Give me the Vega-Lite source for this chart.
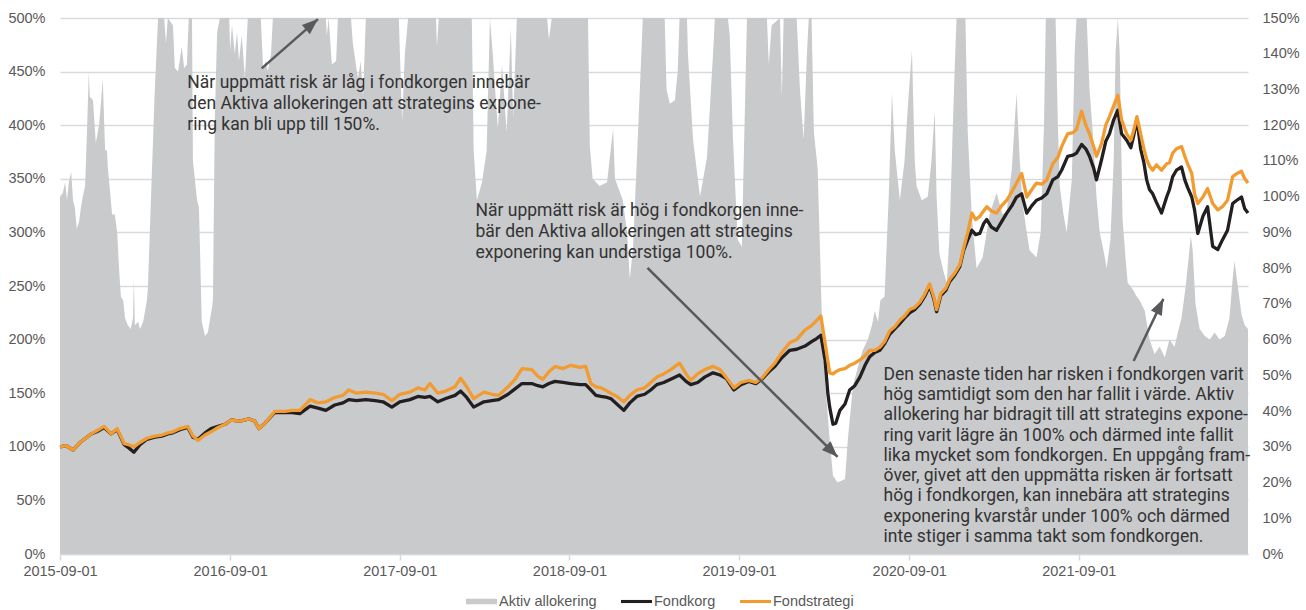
{
  "$schema": "https://vega.github.io/schema/vega-lite/v6.json",
  "width": 1188,
  "height": 536,
  "autosize": {"type": "none"},
  "padding": {"left": 60, "top": 18, "right": 58, "bottom": 56},
  "background": "white",
  "config": {
    "view": {"stroke": null},
    "axis": {"labelFont": "Liberation Sans", "labelFontSize": 14.5, "labelColor": "#595959"},
    "legend": {
      "orient": "none", "legendX": 406, "legendY": 568, "direction": "horizontal",
      "symbolType": "M-1,-0.1H1V0.1H-1Z", "symbolSize": 961, "symbolStrokeWidth": 0,
      "labelFont": "Liberation Sans", "labelFontSize": 14.5, "labelColor": "#595959", "labelOffset": 2,
      "columnPadding": 24
    }
  },
  "datasets": {
    "area": [
      {"d":"2015-09-01","v":100},{"d":"2015-09-07","v":101},{"d":"2015-09-12","v":104},{"d":"2015-09-16","v":99},
      {"d":"2015-09-20","v":104},{"d":"2015-09-25","v":107},{"d":"2015-09-29","v":99},{"d":"2015-10-03","v":97},
      {"d":"2015-10-07","v":91},{"d":"2015-10-12","v":93},{"d":"2015-10-16","v":97},{"d":"2015-10-20","v":100},
      {"d":"2015-10-25","v":103},{"d":"2015-10-29","v":118},{"d":"2015-11-02","v":135},{"d":"2015-11-04","v":128},
      {"d":"2015-11-11","v":127},{"d":"2015-11-17","v":115},{"d":"2015-11-24","v":120},{"d":"2015-11-28","v":126},
      {"d":"2015-12-02","v":133},{"d":"2015-12-07","v":113},{"d":"2015-12-11","v":113},{"d":"2015-12-13","v":108},
      {"d":"2015-12-18","v":101},{"d":"2015-12-22","v":95},{"d":"2015-12-28","v":95},{"d":"2016-01-02","v":90},
      {"d":"2016-01-06","v":80},{"d":"2016-01-10","v":72},{"d":"2016-01-15","v":71},{"d":"2016-01-19","v":66},
      {"d":"2016-01-25","v":64},{"d":"2016-01-31","v":63},{"d":"2016-02-05","v":66},{"d":"2016-02-07","v":77},
      {"d":"2016-02-09","v":64},{"d":"2016-02-16","v":65},{"d":"2016-02-20","v":63},{"d":"2016-02-27","v":65},
      {"d":"2016-03-06","v":71},{"d":"2016-03-08","v":74},{"d":"2016-03-17","v":108},{"d":"2016-03-23","v":130},
      {"d":"2016-03-30","v":150},{"d":"2016-04-12","v":150},{"d":"2016-04-16","v":143},{"d":"2016-04-20","v":150},
      {"d":"2016-05-01","v":148},{"d":"2016-05-05","v":136},{"d":"2016-05-12","v":135},{"d":"2016-05-20","v":142},
      {"d":"2016-05-25","v":136},{"d":"2016-05-31","v":137},{"d":"2016-06-04","v":150},{"d":"2016-06-11","v":150},
      {"d":"2016-06-13","v":110},{"d":"2016-06-22","v":99},{"d":"2016-06-26","v":97},{"d":"2016-07-02","v":65},
      {"d":"2016-07-09","v":61},{"d":"2016-07-15","v":62},{"d":"2016-07-24","v":69},{"d":"2016-07-26","v":71},
      {"d":"2016-07-30","v":121},{"d":"2016-08-04","v":146},{"d":"2016-08-10","v":150},{"d":"2016-08-30","v":150},
      {"d":"2016-09-01","v":141},{"d":"2016-09-05","v":148},{"d":"2016-09-11","v":140},{"d":"2016-09-16","v":146},
      {"d":"2016-09-20","v":138},{"d":"2016-09-26","v":145},{"d":"2016-10-03","v":133},{"d":"2016-10-09","v":150},
      {"d":"2016-11-06","v":150},{"d":"2016-11-11","v":136},{"d":"2016-11-17","v":138},{"d":"2016-11-21","v":135},
      {"d":"2016-11-28","v":140},{"d":"2016-12-02","v":150},{"d":"2017-03-26","v":150},{"d":"2017-03-28","v":145},
      {"d":"2017-04-01","v":150},{"d":"2017-04-08","v":137},{"d":"2017-04-17","v":138},{"d":"2017-04-21","v":150},
      {"d":"2017-05-19","v":150},{"d":"2017-05-23","v":143},{"d":"2017-06-03","v":133},{"d":"2017-06-09","v":138},
      {"d":"2017-06-14","v":128},{"d":"2017-06-20","v":150},{"d":"2017-08-30","v":150},{"d":"2017-09-06","v":121},
      {"d":"2017-09-12","v":140},{"d":"2017-09-19","v":150},{"d":"2017-11-18","v":150},{"d":"2017-11-20","v":142},
      {"d":"2017-11-24","v":150},{"d":"2018-02-03","v":150},{"d":"2018-02-07","v":113},{"d":"2018-02-14","v":99},
      {"d":"2018-02-25","v":104},{"d":"2018-03-07","v":113},{"d":"2018-03-14","v":150},{"d":"2018-03-20","v":140},
      {"d":"2018-03-31","v":119},{"d":"2018-04-09","v":137},{"d":"2018-04-19","v":118},{"d":"2018-04-28","v":147},
      {"d":"2018-05-03","v":122},{"d":"2018-05-11","v":150},{"d":"2018-07-15","v":150},{"d":"2018-07-19","v":144},
      {"d":"2018-07-25","v":150},{"d":"2018-10-11","v":150},{"d":"2018-10-15","v":114},{"d":"2018-10-21","v":105},
      {"d":"2018-11-05","v":103},{"d":"2018-11-21","v":104},{"d":"2018-12-04","v":119},{"d":"2018-12-08","v":105},
      {"d":"2018-12-25","v":99},{"d":"2019-01-03","v":90},{"d":"2019-01-09","v":77},{"d":"2019-01-16","v":86},
      {"d":"2019-01-26","v":116},{"d":"2019-02-06","v":150},{"d":"2019-03-25","v":150},{"d":"2019-03-29","v":130},
      {"d":"2019-04-05","v":126},{"d":"2019-04-16","v":127},{"d":"2019-04-22","v":135},{"d":"2019-04-26","v":150},
      {"d":"2019-05-12","v":150},{"d":"2019-05-14","v":140},{"d":"2019-05-25","v":116},{"d":"2019-06-09","v":100},
      {"d":"2019-06-24","v":111},{"d":"2019-07-07","v":140},{"d":"2019-07-11","v":150},{"d":"2019-08-08","v":150},
      {"d":"2019-08-12","v":145},{"d":"2019-08-19","v":116},{"d":"2019-08-29","v":88},{"d":"2019-09-07","v":86},
      {"d":"2019-09-11","v":110},{"d":"2019-09-18","v":150},{"d":"2019-10-31","v":150},{"d":"2019-11-04","v":137},
      {"d":"2019-11-10","v":148},{"d":"2019-11-28","v":150},{"d":"2019-12-02","v":128},{"d":"2019-12-06","v":150},
      {"d":"2020-01-03","v":150},{"d":"2020-01-10","v":130},{"d":"2020-01-18","v":116},{"d":"2020-01-25","v":140},
      {"d":"2020-01-29","v":150},{"d":"2020-02-04","v":150},{"d":"2020-02-09","v":118},{"d":"2020-02-17","v":108},
      {"d":"2020-02-22","v":86},{"d":"2020-02-28","v":57},{"d":"2020-03-08","v":42},{"d":"2020-03-14","v":32},
      {"d":"2020-03-21","v":22},{"d":"2020-03-31","v":20},{"d":"2020-04-16","v":21},{"d":"2020-04-22","v":32},
      {"d":"2020-05-03","v":47},{"d":"2020-05-13","v":52},{"d":"2020-05-24","v":57},{"d":"2020-06-04","v":60},
      {"d":"2020-06-13","v":64},{"d":"2020-06-19","v":68},{"d":"2020-06-26","v":65},{"d":"2020-07-01","v":71},
      {"d":"2020-07-10","v":72},{"d":"2020-07-19","v":100},{"d":"2020-07-26","v":129},{"d":"2020-08-01","v":113},
      {"d":"2020-08-12","v":99},{"d":"2020-08-22","v":110},{"d":"2020-08-29","v":125},{"d":"2020-09-07","v":141},
      {"d":"2020-09-13","v":110},{"d":"2020-09-17","v":103},{"d":"2020-09-28","v":99},{"d":"2020-10-11","v":100},
      {"d":"2020-10-19","v":110},{"d":"2020-10-26","v":124},{"d":"2020-10-30","v":100},{"d":"2020-11-05","v":84},
      {"d":"2020-11-14","v":79},{"d":"2020-11-21","v":76},{"d":"2020-11-27","v":90},{"d":"2020-12-04","v":120},
      {"d":"2020-12-08","v":136},{"d":"2020-12-12","v":150},{"d":"2020-12-31","v":150},{"d":"2021-01-05","v":118},
      {"d":"2021-01-14","v":94},{"d":"2021-01-24","v":80},{"d":"2021-02-06","v":83},{"d":"2021-02-21","v":95},
      {"d":"2021-03-08","v":101},{"d":"2021-03-21","v":95},{"d":"2021-03-30","v":96},{"d":"2021-04-10","v":108},
      {"d":"2021-04-20","v":129},{"d":"2021-04-27","v":110},{"d":"2021-05-03","v":98},{"d":"2021-05-12","v":90},
      {"d":"2021-05-18","v":85},{"d":"2021-06-02","v":83},{"d":"2021-06-11","v":90},{"d":"2021-06-18","v":120},
      {"d":"2021-06-22","v":150},{"d":"2021-07-13","v":150},{"d":"2021-07-18","v":120},{"d":"2021-07-22","v":103},
      {"d":"2021-07-30","v":95},{"d":"2021-08-06","v":90},{"d":"2021-08-17","v":105},{"d":"2021-08-23","v":140},
      {"d":"2021-08-27","v":150},{"d":"2021-09-18","v":150},{"d":"2021-09-24","v":130},{"d":"2021-10-01","v":118},
      {"d":"2021-10-09","v":100},{"d":"2021-10-16","v":90},{"d":"2021-10-24","v":85},{"d":"2021-10-31","v":80},
      {"d":"2021-11-08","v":88},{"d":"2021-11-15","v":110},{"d":"2021-11-19","v":140},{"d":"2021-11-24","v":150},
      {"d":"2021-11-28","v":140},{"d":"2021-12-04","v":94},{"d":"2021-12-11","v":82},{"d":"2021-12-15","v":76},
      {"d":"2021-12-26","v":74},{"d":"2022-01-04","v":72},{"d":"2022-01-10","v":71},{"d":"2022-01-21","v":68},
      {"d":"2022-01-31","v":60},{"d":"2022-02-11","v":56},{"d":"2022-02-22","v":58},{"d":"2022-03-05","v":55},
      {"d":"2022-03-15","v":60},{"d":"2022-03-26","v":58},{"d":"2022-04-02","v":62},{"d":"2022-04-10","v":66},
      {"d":"2022-04-19","v":75},{"d":"2022-04-23","v":80},{"d":"2022-04-30","v":89},{"d":"2022-05-04","v":85},
      {"d":"2022-05-10","v":70},{"d":"2022-05-19","v":63},{"d":"2022-05-30","v":61},{"d":"2022-06-10","v":60},
      {"d":"2022-06-20","v":62},{"d":"2022-07-01","v":60},{"d":"2022-07-12","v":61},{"d":"2022-07-22","v":66},
      {"d":"2022-07-29","v":77},{"d":"2022-08-02","v":82},{"d":"2022-08-09","v":75},{"d":"2022-08-17","v":67},
      {"d":"2022-08-24","v":64},{"d":"2022-08-31","v":63}
    ],
    "lines": [
      {"d":"2015-09-01","Fondkorg":100,"Fondstrategi":100},{"d":"2015-09-14","Fondkorg":101,"Fondstrategi":101},
      {"d":"2015-09-29","Fondkorg":97,"Fondstrategi":97},{"d":"2015-10-14","Fondkorg":104,"Fondstrategi":104},
      {"d":"2015-11-07","Fondkorg":112,"Fondstrategi":112},{"d":"2015-11-19","Fondkorg":114,"Fondstrategi":115},
      {"d":"2015-12-05","Fondkorg":118,"Fondstrategi":119},{"d":"2015-12-20","Fondkorg":112,"Fondstrategi":112},
      {"d":"2016-01-02","Fondkorg":116,"Fondstrategi":117},{"d":"2016-01-17","Fondkorg":102,"Fondstrategi":103},
      {"d":"2016-01-27","Fondkorg":99,"Fondstrategi":102},{"d":"2016-02-07","Fondkorg":95,"Fondstrategi":100},
      {"d":"2016-02-20","Fondkorg":102,"Fondstrategi":104},{"d":"2016-03-06","Fondkorg":107,"Fondstrategi":108},
      {"d":"2016-03-23","Fondkorg":109,"Fondstrategi":110},{"d":"2016-04-07","Fondkorg":110,"Fondstrategi":111},
      {"d":"2016-04-20","Fondkorg":112,"Fondstrategi":113},{"d":"2016-05-01","Fondkorg":113,"Fondstrategi":114},
      {"d":"2016-05-16","Fondkorg":116,"Fondstrategi":117},{"d":"2016-06-02","Fondkorg":118,"Fondstrategi":119},
      {"d":"2016-06-13","Fondkorg":109,"Fondstrategi":110},{"d":"2016-06-24","Fondkorg":107,"Fondstrategi":106},
      {"d":"2016-07-09","Fondkorg":113,"Fondstrategi":111},{"d":"2016-07-22","Fondkorg":117,"Fondstrategi":114},
      {"d":"2016-08-06","Fondkorg":119,"Fondstrategi":118},{"d":"2016-08-21","Fondkorg":121,"Fondstrategi":121},
      {"d":"2016-09-03","Fondkorg":125,"Fondstrategi":125},{"d":"2016-09-22","Fondkorg":124,"Fondstrategi":124},
      {"d":"2016-10-12","Fondkorg":126,"Fondstrategi":126},{"d":"2016-10-24","Fondkorg":124,"Fondstrategi":124},
      {"d":"2016-11-02","Fondkorg":117,"Fondstrategi":117},{"d":"2016-11-15","Fondkorg":122,"Fondstrategi":122},
      {"d":"2016-12-06","Fondkorg":132,"Fondstrategi":133},{"d":"2016-12-28","Fondkorg":132,"Fondstrategi":133},
      {"d":"2017-01-12","Fondkorg":132,"Fondstrategi":134},{"d":"2017-01-29","Fondkorg":131,"Fondstrategi":134},
      {"d":"2017-02-20","Fondkorg":138,"Fondstrategi":144},{"d":"2017-03-09","Fondkorg":136,"Fondstrategi":141},
      {"d":"2017-03-26","Fondkorg":134,"Fondstrategi":142},{"d":"2017-04-14","Fondkorg":139,"Fondstrategi":146},
      {"d":"2017-05-02","Fondkorg":141,"Fondstrategi":148},{"d":"2017-05-14","Fondkorg":144,"Fondstrategi":153},
      {"d":"2017-05-31","Fondkorg":143,"Fondstrategi":150},{"d":"2017-06-20","Fondkorg":144,"Fondstrategi":151},
      {"d":"2017-07-10","Fondkorg":143,"Fondstrategi":150},{"d":"2017-07-27","Fondkorg":142,"Fondstrategi":149},
      {"d":"2017-08-15","Fondkorg":137,"Fondstrategi":143},{"d":"2017-09-01","Fondkorg":142,"Fondstrategi":149},
      {"d":"2017-09-23","Fondkorg":144,"Fondstrategi":151},{"d":"2017-10-10","Fondkorg":147,"Fondstrategi":155},
      {"d":"2017-10-25","Fondkorg":146,"Fondstrategi":153},{"d":"2017-11-05","Fondkorg":147,"Fondstrategi":159},
      {"d":"2017-11-22","Fondkorg":142,"Fondstrategi":150},{"d":"2017-12-09","Fondkorg":145,"Fondstrategi":152},
      {"d":"2017-12-29","Fondkorg":148,"Fondstrategi":156},{"d":"2018-01-10","Fondkorg":152,"Fondstrategi":164},
      {"d":"2018-01-23","Fondkorg":146,"Fondstrategi":156},{"d":"2018-02-07","Fondkorg":137,"Fondstrategi":145},
      {"d":"2018-03-01","Fondkorg":142,"Fondstrategi":151},{"d":"2018-03-18","Fondkorg":143,"Fondstrategi":149},
      {"d":"2018-04-02","Fondkorg":144,"Fondstrategi":148},{"d":"2018-04-22","Fondkorg":149,"Fondstrategi":156},
      {"d":"2018-05-07","Fondkorg":154,"Fondstrategi":163},{"d":"2018-05-22","Fondkorg":159,"Fondstrategi":173},
      {"d":"2018-06-12","Fondkorg":159,"Fondstrategi":172},{"d":"2018-06-25","Fondkorg":157,"Fondstrategi":166},
      {"d":"2018-07-06","Fondkorg":156,"Fondstrategi":163},{"d":"2018-07-19","Fondkorg":159,"Fondstrategi":170},
      {"d":"2018-08-01","Fondkorg":161,"Fondstrategi":175},{"d":"2018-08-18","Fondkorg":160,"Fondstrategi":173},
      {"d":"2018-09-04","Fondkorg":159,"Fondstrategi":176},{"d":"2018-09-24","Fondkorg":158,"Fondstrategi":174},
      {"d":"2018-10-06","Fondkorg":158,"Fondstrategi":175},{"d":"2018-10-17","Fondkorg":153,"Fondstrategi":159},
      {"d":"2018-10-28","Fondkorg":148,"Fondstrategi":156},{"d":"2018-11-08","Fondkorg":147,"Fondstrategi":155},
      {"d":"2018-11-21","Fondkorg":146,"Fondstrategi":152},{"d":"2018-11-29","Fondkorg":145,"Fondstrategi":150},
      {"d":"2018-12-12","Fondkorg":140,"Fondstrategi":147},{"d":"2018-12-27","Fondkorg":134,"Fondstrategi":142},
      {"d":"2019-01-09","Fondkorg":141,"Fondstrategi":148},{"d":"2019-01-24","Fondkorg":147,"Fondstrategi":153},
      {"d":"2019-02-10","Fondkorg":149,"Fondstrategi":155},{"d":"2019-02-23","Fondkorg":153,"Fondstrategi":160},
      {"d":"2019-03-08","Fondkorg":158,"Fondstrategi":165},{"d":"2019-03-23","Fondkorg":160,"Fondstrategi":168},
      {"d":"2019-04-07","Fondkorg":163,"Fondstrategi":172},{"d":"2019-04-26","Fondkorg":167,"Fondstrategi":178},
      {"d":"2019-05-10","Fondkorg":161,"Fondstrategi":168},{"d":"2019-05-20","Fondkorg":158,"Fondstrategi":162},
      {"d":"2019-06-04","Fondkorg":160,"Fondstrategi":168},{"d":"2019-06-19","Fondkorg":165,"Fondstrategi":172},
      {"d":"2019-07-07","Fondkorg":169,"Fondstrategi":175},{"d":"2019-07-22","Fondkorg":167,"Fondstrategi":172},
      {"d":"2019-08-04","Fondkorg":164,"Fondstrategi":165},{"d":"2019-08-21","Fondkorg":153,"Fondstrategi":155},
      {"d":"2019-09-05","Fondkorg":158,"Fondstrategi":160},{"d":"2019-09-22","Fondkorg":161,"Fondstrategi":162},
      {"d":"2019-10-07","Fondkorg":159,"Fondstrategi":160},{"d":"2019-10-20","Fondkorg":163,"Fondstrategi":164},
      {"d":"2019-11-04","Fondkorg":170,"Fondstrategi":172},{"d":"2019-11-17","Fondkorg":175,"Fondstrategi":178},
      {"d":"2019-12-02","Fondkorg":183,"Fondstrategi":188},{"d":"2019-12-19","Fondkorg":190,"Fondstrategi":197},
      {"d":"2020-01-03","Fondkorg":191,"Fondstrategi":200},{"d":"2020-01-21","Fondkorg":194,"Fondstrategi":209},
      {"d":"2020-02-04","Fondkorg":198,"Fondstrategi":213},{"d":"2020-02-15","Fondkorg":201,"Fondstrategi":218},
      {"d":"2020-02-24","Fondkorg":204,"Fondstrategi":222},{"d":"2020-03-04","Fondkorg":181,"Fondstrategi":197},
      {"d":"2020-03-10","Fondkorg":150,"Fondstrategi":180},{"d":"2020-03-14","Fondkorg":137,"Fondstrategi":169},
      {"d":"2020-03-21","Fondkorg":121,"Fondstrategi":168},{"d":"2020-03-27","Fondkorg":122,"Fondstrategi":170},
      {"d":"2020-04-05","Fondkorg":134,"Fondstrategi":172},{"d":"2020-04-16","Fondkorg":140,"Fondstrategi":173},
      {"d":"2020-04-26","Fondkorg":153,"Fondstrategi":176},{"d":"2020-05-07","Fondkorg":157,"Fondstrategi":178},
      {"d":"2020-05-18","Fondkorg":165,"Fondstrategi":181},{"d":"2020-05-29","Fondkorg":176,"Fondstrategi":185},
      {"d":"2020-06-08","Fondkorg":184,"Fondstrategi":190},{"d":"2020-06-19","Fondkorg":188,"Fondstrategi":190},
      {"d":"2020-06-30","Fondkorg":190,"Fondstrategi":193},{"d":"2020-07-10","Fondkorg":196,"Fondstrategi":198},
      {"d":"2020-07-21","Fondkorg":205,"Fondstrategi":208},{"d":"2020-08-01","Fondkorg":210,"Fondstrategi":212},
      {"d":"2020-08-12","Fondkorg":215,"Fondstrategi":218},{"d":"2020-08-22","Fondkorg":220,"Fondstrategi":222},
      {"d":"2020-09-02","Fondkorg":225,"Fondstrategi":228},{"d":"2020-09-13","Fondkorg":228,"Fondstrategi":230},
      {"d":"2020-09-24","Fondkorg":233,"Fondstrategi":235},{"d":"2020-10-04","Fondkorg":240,"Fondstrategi":242},
      {"d":"2020-10-15","Fondkorg":250,"Fondstrategi":252},{"d":"2020-10-24","Fondkorg":238,"Fondstrategi":240},
      {"d":"2020-10-30","Fondkorg":226,"Fondstrategi":228},{"d":"2020-11-08","Fondkorg":241,"Fondstrategi":243},
      {"d":"2020-11-19","Fondkorg":246,"Fondstrategi":248},{"d":"2020-11-27","Fondkorg":254,"Fondstrategi":256},
      {"d":"2020-12-08","Fondkorg":260,"Fondstrategi":262},{"d":"2020-12-19","Fondkorg":268,"Fondstrategi":270},
      {"d":"2020-12-27","Fondkorg":283,"Fondstrategi":285},{"d":"2021-01-05","Fondkorg":293,"Fondstrategi":300},
      {"d":"2021-01-14","Fondkorg":302,"Fondstrategi":318},{"d":"2021-01-22","Fondkorg":298,"Fondstrategi":312},
      {"d":"2021-01-31","Fondkorg":299,"Fondstrategi":315},{"d":"2021-02-08","Fondkorg":308,"Fondstrategi":320},
      {"d":"2021-02-15","Fondkorg":312,"Fondstrategi":324},{"d":"2021-02-25","Fondkorg":305,"Fondstrategi":320},
      {"d":"2021-03-08","Fondkorg":302,"Fondstrategi":318},{"d":"2021-03-19","Fondkorg":310,"Fondstrategi":325},
      {"d":"2021-03-30","Fondkorg":318,"Fondstrategi":330},{"d":"2021-04-10","Fondkorg":325,"Fondstrategi":338},
      {"d":"2021-04-20","Fondkorg":333,"Fondstrategi":346},{"d":"2021-05-01","Fondkorg":336,"Fondstrategi":355},
      {"d":"2021-05-12","Fondkorg":318,"Fondstrategi":333},{"d":"2021-05-23","Fondkorg":325,"Fondstrategi":340},
      {"d":"2021-06-02","Fondkorg":330,"Fondstrategi":346},{"d":"2021-06-13","Fondkorg":332,"Fondstrategi":345},
      {"d":"2021-06-24","Fondkorg":336,"Fondstrategi":349},{"d":"2021-07-07","Fondkorg":349,"Fondstrategi":364},
      {"d":"2021-07-18","Fondkorg":352,"Fondstrategi":370},{"d":"2021-07-26","Fondkorg":358,"Fondstrategi":380},
      {"d":"2021-08-08","Fondkorg":371,"Fondstrategi":392},{"d":"2021-08-19","Fondkorg":372,"Fondstrategi":393},
      {"d":"2021-08-27","Fondkorg":374,"Fondstrategi":396},{"d":"2021-09-07","Fondkorg":382,"Fondstrategi":413},
      {"d":"2021-09-16","Fondkorg":378,"Fondstrategi":400},{"d":"2021-09-24","Fondkorg":371,"Fondstrategi":392},
      {"d":"2021-10-03","Fondkorg":360,"Fondstrategi":380},{"d":"2021-10-09","Fondkorg":349,"Fondstrategi":371},
      {"d":"2021-10-20","Fondkorg":368,"Fondstrategi":383},{"d":"2021-10-29","Fondkorg":385,"Fondstrategi":400},
      {"d":"2021-11-06","Fondkorg":392,"Fondstrategi":408},{"d":"2021-11-15","Fondkorg":405,"Fondstrategi":418},
      {"d":"2021-11-24","Fondkorg":414,"Fondstrategi":428},{"d":"2021-12-02","Fondkorg":392,"Fondstrategi":405},
      {"d":"2021-12-13","Fondkorg":386,"Fondstrategi":392},{"d":"2021-12-22","Fondkorg":379,"Fondstrategi":386},
      {"d":"2021-12-28","Fondkorg":390,"Fondstrategi":395},{"d":"2022-01-04","Fondkorg":406,"Fondstrategi":408},
      {"d":"2022-01-12","Fondkorg":378,"Fondstrategi":392},{"d":"2022-01-19","Fondkorg":365,"Fondstrategi":378},
      {"d":"2022-01-25","Fondkorg":349,"Fondstrategi":368},{"d":"2022-01-31","Fondkorg":340,"Fondstrategi":362},
      {"d":"2022-02-07","Fondkorg":336,"Fondstrategi":358},{"d":"2022-02-15","Fondkorg":328,"Fondstrategi":363},
      {"d":"2022-02-26","Fondkorg":318,"Fondstrategi":358},{"d":"2022-03-09","Fondkorg":333,"Fondstrategi":364},
      {"d":"2022-03-15","Fondkorg":340,"Fondstrategi":365},{"d":"2022-03-22","Fondkorg":352,"Fondstrategi":374},
      {"d":"2022-03-30","Fondkorg":358,"Fondstrategi":378},{"d":"2022-04-10","Fondkorg":361,"Fondstrategi":380},
      {"d":"2022-04-17","Fondkorg":349,"Fondstrategi":371},{"d":"2022-04-23","Fondkorg":342,"Fondstrategi":364},
      {"d":"2022-05-02","Fondkorg":333,"Fondstrategi":355},{"d":"2022-05-08","Fondkorg":321,"Fondstrategi":336},
      {"d":"2022-05-15","Fondkorg":299,"Fondstrategi":327},{"d":"2022-05-26","Fondkorg":315,"Fondstrategi":333},
      {"d":"2022-06-05","Fondkorg":324,"Fondstrategi":341},{"d":"2022-06-16","Fondkorg":287,"Fondstrategi":327},
      {"d":"2022-06-27","Fondkorg":284,"Fondstrategi":321},{"d":"2022-07-07","Fondkorg":293,"Fondstrategi":324},
      {"d":"2022-07-18","Fondkorg":302,"Fondstrategi":330},{"d":"2022-07-29","Fondkorg":327,"Fondstrategi":352},
      {"d":"2022-08-07","Fondkorg":330,"Fondstrategi":355},{"d":"2022-08-17","Fondkorg":333,"Fondstrategi":357},
      {"d":"2022-08-24","Fondkorg":322,"Fondstrategi":350},{"d":"2022-08-31","Fondkorg":318,"Fondstrategi":346}
    ]
  },
  "layer": [
    {
      "data": {"name": "area"},
      "mark": {"type": "area", "interpolate": "linear", "clip": true, "opacity": 1},
      "encoding": {
        "x": {
          "field": "d", "type": "temporal",
          "scale": {"type": "utc", "domain": [{"year": 2015, "month": 9, "date": 1, "utc": true}, {"year": 2022, "month": 8, "date": 31, "utc": true}]},
          "axis": {
            "title": null, "format": "%Y-%m-%d", "grid": false, "labelFlush": false,
            "values": [
              {"year": 2015, "month": 9, "date": 1, "utc": true}, {"year": 2016, "month": 9, "date": 1, "utc": true},
              {"year": 2017, "month": 9, "date": 1, "utc": true}, {"year": 2018, "month": 9, "date": 1, "utc": true},
              {"year": 2019, "month": 9, "date": 1, "utc": true}, {"year": 2020, "month": 9, "date": 1, "utc": true},
              {"year": 2021, "month": 9, "date": 1, "utc": true}
            ],
            "domainColor": "#d9d9d9", "domainWidth": 1.5, "tickColor": "#d9d9d9", "tickWidth": 1.5, "tickSize": 6,
            "labelPadding": 4, "labelOverlap": false
          }
        },
        "y": {
          "field": "v", "type": "quantitative",
          "scale": {"domain": [0, 150], "nice": false, "zero": true},
          "axis": {
            "orient": "right", "title": null, "grid": false, "domain": false, "ticks": false,
            "values": [0, 10, 20, 30, 40, 50, 60, 70, 80, 90, 100, 110, 120, 130, 140, 150],
            "labelExpr": "datum.value + '%'", "labelPadding": 14
          }
        },
        "color": {
          "datum": "Aktiv allokering", "type": "nominal",
          "scale": {"domain": ["Aktiv allokering", "Fondkorg", "Fondstrategi"], "range": ["#c9cacc", "#231f20", "#f29b30"]},
          "legend": {
            "title": null, "symbolType": "M-1,-0.1H1V0.1H-1Z", "symbolSize": 961, "symbolStrokeWidth": 0,
            "labelOffset": 2, "columnPadding": 24,
            "encode": {
              "symbols": {
                "update": {
                  "shape": [{"test": "datum.value === 'Aktiv allokering'", "value": "M-1,-0.18H1V0.18H-1Z"}, {"value": "M-1,-0.1H1V0.1H-1Z"}],
                  "fill": {"scale": "color", "field": "value"},
                  "stroke": {"value": "transparent"},
                  "opacity": {"value": 1},
                  "fillOpacity": {"value": 1}
                }
              }
            }
          }
        }
      }
    },
    {
      "layer": [
        {
          "data": {"name": "lines"},
          "transform": [{"fold": ["Fondkorg", "Fondstrategi"], "as": ["s", "v"]}],
          "mark": {"type": "line", "strokeWidth": 3.3, "interpolate": "linear", "strokeJoin": "round"},
          "encoding": {
            "x": {"field": "d", "type": "temporal"},
            "y": {
              "field": "v", "type": "quantitative",
              "scale": {"domain": [0, 500], "nice": false},
              "axis": {
                "orient": "left", "title": null, "domain": false, "ticks": false,
                "values": [0, 50, 100, 150, 200, 250, 300, 350, 400, 450, 500],
                "labelExpr": "datum.value + '%'", "labelPadding": 15,
                "grid": true, "gridColor": "#dadada", "gridWidth": 1.5
              }
            },
            "color": {
              "field": "s", "type": "nominal",
              "legend": {
                "title": null, "symbolType": "M-1,-0.1H1V0.1H-1Z", "symbolSize": 961, "symbolStrokeWidth": 0,
                "labelOffset": 2, "columnPadding": 24,
                "encode": {
                  "symbols": {
                    "update": {
                      "shape": [{"test": "datum.value === 'Aktiv allokering'", "value": "M-1,-0.18H1V0.18H-1Z"}, {"value": "M-1,-0.1H1V0.1H-1Z"}],
                      "fill": {"scale": "color", "field": "value"},
                      "stroke": {"value": "transparent"},
                      "opacity": {"value": 1},
                      "fillOpacity": {"value": 1}
                    }
                  }
                }
              }
            }
          }
        },
        {
          "data": {"values": [{}]},
          "mark": {"type": "rule", "color": "#58595b", "strokeWidth": 2.5},
          "encoding": {
            "x": {"datum": {"year": 2016, "month": 11, "date": 8, "utc": true}, "type": "temporal"},
            "y": {"datum": 453},
            "x2": {"datum": {"year": 2017, "month": 3, "date": 9, "utc": true}},
            "y2": {"datum": 499}
          }
        },
        {
          "data": {"values": [{}]},
          "mark": {"type": "point", "shape": "M0,0L0.38,1L-0.38,1Z", "size": 1024, "angle": 49, "filled": true, "color": "#58595b", "opacity": 1},
          "encoding": {
            "x": {"datum": {"year": 2017, "month": 3, "date": 9, "utc": true}, "type": "temporal"},
            "y": {"datum": 499}
          }
        },
        {
          "data": {"values": [{}]},
          "mark": {"type": "rule", "color": "#58595b", "strokeWidth": 2.5},
          "encoding": {
            "x": {"datum": {"year": 2019, "month": 2, "date": 16, "utc": true}, "type": "temporal"},
            "y": {"datum": 267},
            "x2": {"datum": {"year": 2020, "month": 3, "date": 31, "utc": true}},
            "y2": {"datum": 90.5}
          }
        },
        {
          "data": {"values": [{}]},
          "mark": {"type": "point", "shape": "M0,0L0.38,1L-0.38,1Z", "size": 1024, "angle": 135, "filled": true, "color": "#58595b", "opacity": 1},
          "encoding": {
            "x": {"datum": {"year": 2020, "month": 3, "date": 31, "utc": true}, "type": "temporal"},
            "y": {"datum": 90.5}
          }
        },
        {
          "data": {"values": [{}]},
          "mark": {"type": "rule", "color": "#58595b", "strokeWidth": 2.5},
          "encoding": {
            "x": {"datum": {"year": 2021, "month": 12, "date": 28, "utc": true}, "type": "temporal"},
            "y": {"datum": 180},
            "x2": {"datum": {"year": 2022, "month": 3, "date": 2, "utc": true}},
            "y2": {"datum": 238}
          }
        },
        {
          "data": {"values": [{}]},
          "mark": {"type": "point", "shape": "M0,0L0.38,1L-0.38,1Z", "size": 1024, "angle": 26, "filled": true, "color": "#58595b", "opacity": 1},
          "encoding": {
            "x": {"datum": {"year": 2022, "month": 3, "date": 2, "utc": true}, "type": "temporal"},
            "y": {"datum": 238}
          }
        },
        {
          "data": {"values": [{"txt": ["När uppmätt risk är låg i fondkorgen innebär", "den Aktiva allokeringen att strategins expone-", "ring kan bli upp till 150%."]}]},
          "mark": {"type": "text", "align": "left", "baseline": "middle", "font": "Roboto", "fontSize": 17.5, "lineHeight": 21, "color": "#333333"},
          "encoding": {
            "x": {"datum": {"year": 2016, "month": 6, "date": 1, "utc": true}, "type": "temporal"},
            "y": {"datum": 439.4},
            "text": {"field": "txt"}
          }
        },
        {
          "data": {"values": [{"txt": ["När uppmätt risk är hög i fondkorgen inne-", "bär den Aktiva allokeringen att strategins", "exponering kan understiga 100%."]}]},
          "mark": {"type": "text", "align": "left", "baseline": "middle", "font": "Roboto", "fontSize": 17.5, "lineHeight": 21, "color": "#333333"},
          "encoding": {
            "x": {"datum": {"year": 2018, "month": 2, "date": 11, "utc": true}, "type": "temporal"},
            "y": {"datum": 320},
            "text": {"field": "txt"}
          }
        },
        {
          "data": {"values": [{"txt": ["Den senaste tiden har risken i fondkorgen varit", "hög samtidigt som den har fallit i värde. Aktiv", "allokering har bidragit till att strategins expone-", "ring varit lägre än 100% och därmed inte fallit", "lika mycket som fondkorgen. En uppgång fram-", "över, givet att den uppmätta risken är fortsatt", "hög i fondkorgen, kan innebära att strategins", "exponering kvarstår under 100% och därmed", "inte stiger i samma takt som fondkorgen."]}]},
          "mark": {"type": "text", "align": "left", "baseline": "middle", "font": "Roboto", "fontSize": 17.5, "lineHeight": 20.25, "color": "#333333"},
          "encoding": {
            "x": {"datum": {"year": 2020, "month": 7, "date": 8, "utc": true}, "type": "temporal"},
            "y": {"datum": 167},
            "text": {"field": "txt"}
          }
        }
      ]
    }
  ],
  "resolve": {"scale": {"y": "independent"}}
}
